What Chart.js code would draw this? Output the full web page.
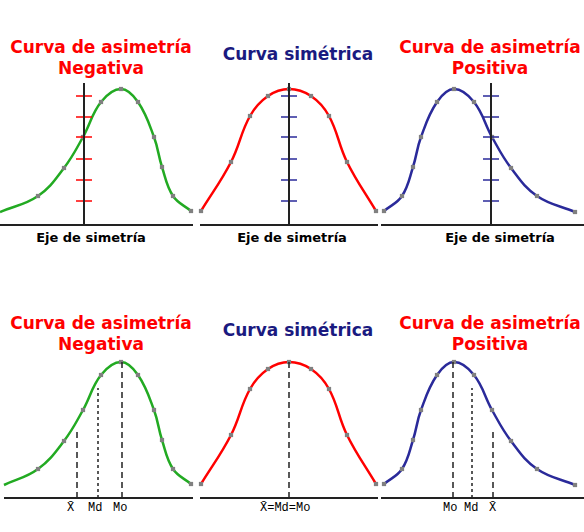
<!DOCTYPE html>
<html><head><meta charset="utf-8">
<script src="https://cdn.jsdelivr.net/npm/chart.js@4"></script>
<style>
body{margin:0;width:584px;height:532px;background:#fff;position:relative;overflow:hidden;font-family:"DejaVu Sans",sans-serif}
canvas{position:absolute;left:0}
.t{position:absolute;font-weight:bold;font-size:17px;text-align:center;line-height:21px;width:220px}
.r{color:#ff0000}.b{color:#1a1a80}
.e{position:absolute;font-weight:bold;font-size:13px;width:200px;text-align:center}
.m{position:absolute;font-family:"Liberation Mono",monospace;font-size:12px}
</style></head><body>
<div class="t r" style="left:-9px;top:37px">Curva de asimetría<br>Negativa</div>
<div class="t b" style="left:188px;top:44px">Curva simétrica</div>
<div class="t r" style="left:380px;top:37px">Curva de asimetría<br>Positiva</div>
<div class="e" style="left:-9px;top:230px">Eje de simetría</div>
<div class="e" style="left:192px;top:230px">Eje de simetría</div>
<div class="e" style="left:400px;top:230px">Eje de simetría</div>
<div class="t r" style="left:-9px;top:313px">Curva de asimetría<br>Negativa</div>
<div class="t b" style="left:188px;top:320px">Curva simétrica</div>
<div class="t r" style="left:380px;top:313px">Curva de asimetría<br>Positiva</div>
<div class="m" style="left:67px;top:501px">X̄</div>
<div class="m" style="left:88px;top:501px">Md</div>
<div class="m" style="left:113px;top:501px">Mo</div>
<div class="m" style="left:260px;top:501px">X̄=Md=Mo</div>
<div class="m" style="left:443px;top:501px">Mo</div>
<div class="m" style="left:464px;top:501px">Md</div>
<div class="m" style="left:489px;top:501px">X̄</div>
<canvas id="top" width="584" height="155" style="top:75px"></canvas>
<canvas id="bot" width="584" height="155" style="top:349px"></canvas>
<script>
// curve points: x in page pixels, y = height above the baseline
const negX = [0,38,64,83,101,121,138,154,162,173,191];
const negY = [13,29,57,88,123,136,123,88,58,29,14];
const symX = [201,231,250,268,289,311,329,347,376];
const symY = [14,63,109,129,136,129,109,63,14];
const posX = [384,402,413,421,437,454,474,492,511,537,575];
const posY = [14,29,58,88,123,136,123,88,57,29,13];
const tickY = [129,108,88,66,45,24];
const axisX = [84,289,491];
const topBase = [[0,193],[200,378],[381,584]];
const botBase = [[4,193],[200,378],[381,584]];
// bottom row: [x, height, dash]
const meanLines = [[77,70,[6,4]],[98,110,[3,3]],[122,139,[6,4]],[289,139,[6,4]],[453,139,[6,4]],[472,110,[3,3]],[493,70,[6,4]]];

function pts(xs,ys){return xs.map((x,i)=>({x:x,y:ys[i]}));}
function curve(xs,ys,col,first){
  return {type:'line',data:pts(xs,ys),borderColor:col,borderWidth:2.5,tension:0.4,
    pointStyle:'rect',pointRadius:xs.map((x,i)=>i==0&&!first?0:3),pointBackgroundColor:'#808080',pointBorderWidth:0};
}
function seg(a,b,col,w,dash){
  return {type:'line',data:[a,b],borderColor:col,borderWidth:w||2,borderDash:dash||[],pointRadius:0,tension:0};
}
function ticks(x,col){
  return {type:'scatter',data:tickY.map(y=>({x:x,y:y})),pointStyle:'line',pointRadius:8,borderColor:col,borderWidth:1.5};
}
function make(id,sets,min){
  new Chart(document.getElementById(id),{type:'line',data:{datasets:sets},
    options:{responsive:false,animation:false,layout:{padding:0,autoPadding:false},
      plugins:{legend:{display:false},tooltip:{enabled:false}},
      scales:{x:{type:'linear',display:false,min:0,max:584},y:{display:false,min:min,max:min+155}}}});
}
let topSets=[];
topBase.forEach(b=>topSets.push(seg({x:b[0],y:0},{x:b[1],y:0},'#222')));
axisX.forEach(x=>topSets.push(seg({x:x,y:0},{x:x,y:142},'#222')));
topSets.push(ticks(axisX[0],'#ff0000'),ticks(axisX[1],'#2a2a9a'),ticks(axisX[2],'#2a2a9a'));
topSets.push(curve(negX,negY,'#22aa22',false),curve(symX,symY,'#ff0000',true),curve(posX,posY,'#2a2a9a',true));
make('top',topSets,-5);

let botSets=[];
botBase.forEach(b=>botSets.push(seg({x:b[0],y:0},{x:b[1],y:0},'#222')));
meanLines.forEach(l=>botSets.push(seg({x:l[0],y:0},{x:l[0],y:l[1]},'#222',1.5,l[2])));
const negXb = negX.map((x,i)=>i==0?4:x);
botSets.push(curve(negXb,negY,'#22aa22',false),curve(symX,symY,'#ff0000',true),curve(posX,posY,'#2a2a9a',true));
make('bot',botSets,-6);
</script>
</body></html>
